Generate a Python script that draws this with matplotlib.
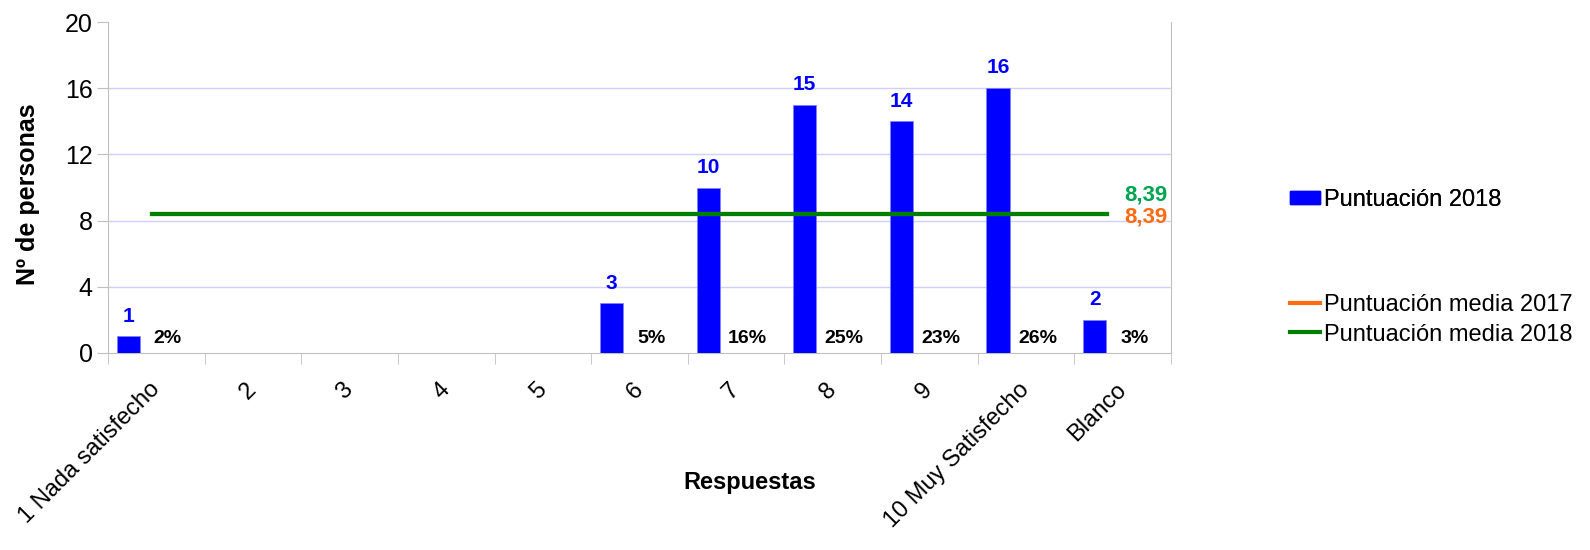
import matplotlib.pyplot as plt
from matplotlib.lines import Line2D
from matplotlib.patches import Patch

plt.rcParams['font.family'] = ['Liberation Sans', 'DejaVu Sans']

## Data
categorias = ['1 Nada satisfecho', '2', '3', '4', '5', '6', '7', '8', '9',
              '10 Muy Satisfecho', 'Blanco']
personas = [1, 0, 0, 0, 0, 3, 10, 15, 14, 16, 2]
porcentajes = ['2%', '', '', '', '', '5%', '16%', '25%', '23%', '26%', '3%']
media_2017 = 8.39
media_2018 = 8.39

azul = '#0000ff'
verde = '#008000'
naranja = '#ff6a13'

fig = plt.figure(figsize=(15.9, 5.5), dpi=100)
ax = fig.add_axes([108 / 1590, 197 / 550, 1063 / 1590, 331 / 550])

x = list(range(len(categorias)))
bx = [i - 0.29 for i in x]
ax.bar(bx, personas, width=0.24, color=azul, edgecolor='#8080ff', linewidth=0.5, zorder=3)

## Bar value labels and percentages
for i, v in enumerate(personas):
    if v > 0:
        ax.text(bx[i], v + 0.65, str(v), color=azul, fontsize=15, fontweight='bold',
                ha='center', va='bottom', zorder=5)
    if porcentajes[i]:
        ax.text(i + 0.12, 0.35, porcentajes[i], color='black', fontsize=14,
                fontweight='bold', ha='center', va='bottom', zorder=5)

## Mean lines
ax.plot([x[0] - 0.04, x[-1] - 0.16], [media_2017, media_2017], color=naranja, lw=3, zorder=4)
ax.plot([x[0] - 0.04, x[-1] - 0.16], [media_2018, media_2018], color=verde, lw=3, zorder=4)
ax.text(10.46, media_2018 + 0.5, '8,39', color='#00a550', fontsize=16,
        fontweight='bold', ha='right', va='bottom')
ax.text(10.46, media_2017 - 0.2, '8,39', color=naranja, fontsize=16,
        fontweight='bold', ha='right', va='center')

## Axes styling
ax.set_xlim(-0.5, len(categorias) - 0.5)
ax.set_ylim(0, 20)
ax.set_yticks([0, 4, 8, 12, 16, 20])
ax.tick_params(axis='y', labelsize=18, length=8, color='#c0c0c0', pad=3)
ax.set_xticks([i - 0.5 for i in x] + [len(categorias) - 0.5], minor=True)
ax.set_xticks(x)
ax.set_xticklabels(categorias, rotation=45, ha='right', va='center',
                   rotation_mode='anchor', fontsize=17)
ax.tick_params(axis='x', which='major', length=0, pad=24)
ax.tick_params(axis='x', which='minor', length=8, color='#c0c0c0')
for y in [4, 8, 12, 16]:
    ax.axhline(y, color='#d0d0ff', lw=1, zorder=1)
ax.spines['top'].set_visible(False)
for s in ['left', 'bottom', 'right']:
    ax.spines[s].set_color('#c0c0c0')

ax.set_ylabel('Nº de personas', fontsize=18, fontweight='bold')
ax.yaxis.set_label_coords(-0.064, 0.48)
ax.set_xlabel('Respuestas', fontsize=17, fontweight='bold')
ax.xaxis.set_label_coords(0.604, -0.356)

## Legends
leg1 = fig.legend(handles=[Patch(color=azul, label='Puntuación 2018')],
                  loc='center left', bbox_to_anchor=(1290 / 1590, 1 - 200 / 550),
                  frameon=False, fontsize=17, handlelength=1.25, handleheight=0.5,
                  handletextpad=0.2, borderpad=0, borderaxespad=0)
fig.legend(handles=[Line2D([], [], color=naranja, lw=3, label='Puntuación media 2017'),
                    Line2D([], [], color=verde, lw=3, label='Puntuación media 2018')],
           loc='center left', bbox_to_anchor=(1290 / 1590, 1 - 320 / 550),
           frameon=False, fontsize=17, handlelength=1.25, handletextpad=0.2,
           labelspacing=0.3, borderpad=0, borderaxespad=0)
fig.add_artist(leg1)

plt.savefig('out.png', dpi=100)
